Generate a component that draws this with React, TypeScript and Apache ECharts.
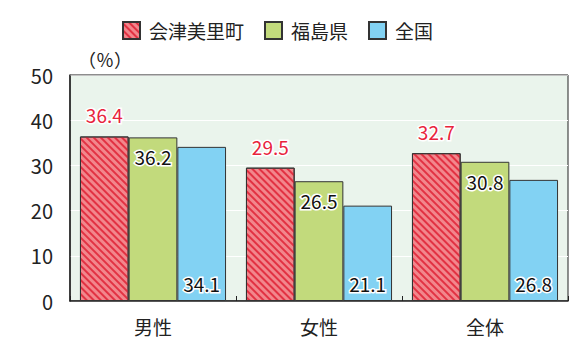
import React, { useEffect, useRef } from "react";
import * as echarts from "echarts";

const categories = ["男性", "女性", "全体"];
const seriesNames = ["会津美里町", "福島県", "全国"];
const aizuMisato = [36.4, 29.5, 32.7];
const fukushima = [36.2, 26.5, 30.8];
const zenkoku = [34.1, 21.1, 26.8];
const yTicks = { min: 0, max: 50, interval: 10 };

const FONT = "'Noto Sans CJK JP', 'Noto Sans', sans-serif";

export default function App() {
  const ref = useRef<HTMLDivElement>(null);
  useEffect(() => {
    document.body.style.margin = "0";
    if (!ref.current) return;
    const chart = echarts.init(ref.current, null, { renderer: "svg" });
    const labelBase = {
      show: true,
      fontFamily: FONT,
      fontSize: 19,
      textBorderColor: "#fff",
      textBorderWidth: 3,
      formatter: (p: any) => p.value.toFixed(1),
    };
    chart.setOption({
      animation: false,
      textStyle: { fontFamily: FONT },
      legend: {
        top: 16,
        left: 117,
        itemWidth: 17,
        itemHeight: 17,
        itemGap: 20,
        icon: "rect",
        textStyle: { fontFamily: FONT, fontSize: 19, color: "#222", padding: [0, 0, 0, 4] },
        data: seriesNames,
      },
      grid: {
        left: 70,
        right: 15,
        top: 75,
        bottom: 46,
        show: true,
        backgroundColor: "#EAF4EC",
        borderColor: "#222",
        borderWidth: 1,
      },
      graphic: [
        {
          type: "line",
          shape: { x1: 70, y1: 75, x2: 568, y2: 75 },
          style: { stroke: "#888", lineWidth: 1 },
          z: 100,
        },
        {
          type: "text",
          x: 78,
          y: 50,
          style: { text: "（％）", fontFamily: FONT, fontSize: 18, fill: "#222" },
        },
      ],
      xAxis: {
        type: "category",
        data: categories,
        axisLine: { lineStyle: { color: "#222", width: 1.5 } },
        axisTick: { show: true, inside: true, length: 5, lineStyle: { color: "#222" } },
        axisLabel: { fontFamily: FONT, fontSize: 19, color: "#222", margin: 16 },
      },
      yAxis: {
        type: "value",
        min: yTicks.min,
        max: yTicks.max,
        interval: yTicks.interval,
        axisLine: { show: true, lineStyle: { color: "#222", width: 1.5 } },
        axisTick: { show: false },
        splitLine: { lineStyle: { color: "#fff", width: 1 } },
        axisLabel: { fontFamily: FONT, fontSize: 20, color: "#222", margin: 17 },
      },
      series: [
        {
          name: seriesNames[0],
          type: "bar",
          data: aizuMisato,
          barGap: "0%",
          barCategoryGap: "12%",
          itemStyle: {
            color: "#F2868C",
            borderColor: "#333",
            borderWidth: 1,
            decal: {
              symbol: "rect",
              color: "#E23243",
              dashArrayX: [1, 0],
              dashArrayY: [2, 2.5],
              rotation: Math.PI / 4,
            },
          },
          label: { ...labelBase, position: "top", distance: 12, color: "#E8233C" },
        },
        {
          name: seriesNames[1],
          type: "bar",
          data: fukushima,
          itemStyle: { color: "#C2DA7C", borderColor: "#333", borderWidth: 1 },
          label: { ...labelBase, position: "insideTop", distance: 10, color: "#111" },
        },
        {
          name: seriesNames[2],
          type: "bar",
          data: zenkoku,
          itemStyle: { color: "#82D2F3", borderColor: "#333", borderWidth: 1 },
          label: { ...labelBase, position: "insideBottom", distance: 8, color: "#111" },
        },
      ],
    });
    return () => chart.dispose();
  }, []);
  return <div ref={ref} style={{ width: 583, height: 347 }} />;
}
